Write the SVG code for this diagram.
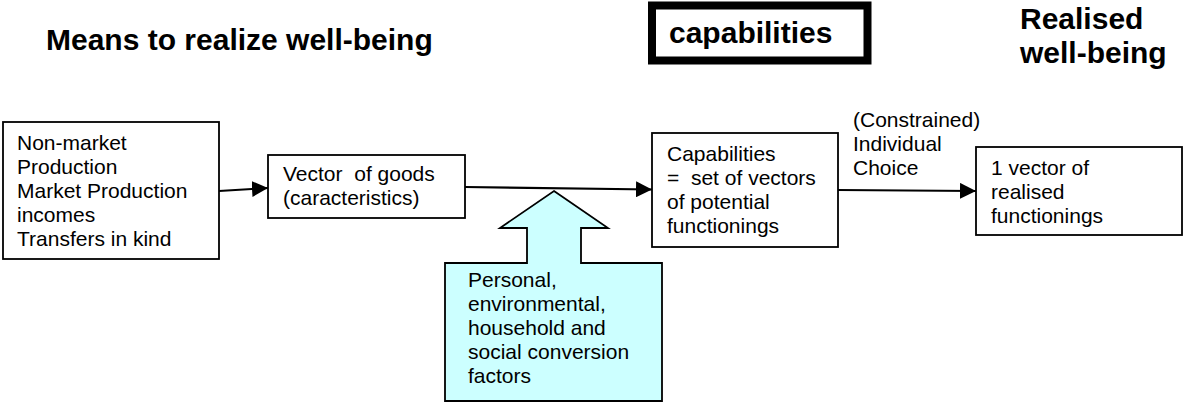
<svg xmlns="http://www.w3.org/2000/svg" width="1184" height="409" viewBox="0 0 1184 409">
<style>
.t{font-family:"Liberation Sans",Arial,sans-serif;font-size:21px;fill:#000}
.h{font-family:"Liberation Sans",Arial,sans-serif;font-size:30px;font-weight:bold;fill:#000}
.box{fill:#fff;stroke:#000;stroke-width:1.8}
.con{stroke:#000;stroke-width:2.2;fill:none}
</style>
<defs>
<marker id="ah" markerUnits="userSpaceOnUse" markerWidth="16" markerHeight="16" refX="15" refY="7.5" orient="auto" viewBox="0 0 15 15">
<path d="M0,0 L15,7.5 L0,15 z" fill="#000"/>
</marker>
</defs>
<rect width="1184" height="409" fill="#fff"/>
<g id="title-means"><text class="h" x="46" y="50">Means to realize well-being</text></g>
<g id="title-capabilities">
<rect x="652" y="5.5" width="215.5" height="55" fill="#fff" stroke="#000" stroke-width="8"/>
<text class="h" x="669" y="43">capabilities</text>
</g>
<g id="title-realised"><text class="h" x="1020" y="29">Realised</text><text class="h" x="1020" y="63">well-being</text></g>
<g id="connectors">
<line class="con" x1="219" y1="191" x2="268" y2="188" marker-end="url(#ah)"/>
<line class="con" x1="465" y1="187" x2="652" y2="189.5" marker-end="url(#ah)"/>
<line class="con" x1="838" y1="190" x2="976" y2="191" marker-end="url(#ah)"/>
</g>
<g id="node-means">
<rect class="box" x="3" y="122" width="216" height="137"/>
<text class="t" x="17" y="150">Non-market</text>
<text class="t" x="17" y="174">Production</text>
<text class="t" x="17" y="198">Market Production</text>
<text class="t" x="17" y="222">incomes</text>
<text class="t" x="17" y="246">Transfers in kind</text>
</g>
<g id="node-vector">
<rect class="box" x="268" y="155" width="197" height="63"/>
<text class="t" x="283" y="181" xml:space="preserve">Vector  of goods</text>
<text class="t" x="283" y="205">(caracteristics)</text>
</g>
<g id="node-capabilities">
<rect class="box" x="652" y="133" width="186" height="114"/>
<text class="t" x="667" y="161">Capabilities</text>
<text class="t" x="667" y="185" xml:space="preserve">=  set of vectors</text>
<text class="t" x="667" y="209">of potential</text>
<text class="t" x="667" y="233">functionings</text>
</g>
<g id="label-choice">
<text class="t" x="853" y="127">(Constrained)</text>
<text class="t" x="853" y="151">Individual</text>
<text class="t" x="853" y="175">Choice</text>
</g>
<g id="node-realised">
<rect class="box" x="976" y="147" width="206" height="88"/>
<text class="t" x="991" y="175">1 vector of</text>
<text class="t" x="991" y="199">realised</text>
<text class="t" x="991" y="223">functionings</text>
</g>
<g id="node-factors">
<polygon points="554,191 608,228 581,228 581,263 662,263 662,401 445,401 445,263 527,263 527,228 500,228" fill="#ccffff" stroke="#000" stroke-width="1.8"/>
<text class="t" x="468" y="287">Personal,</text>
<text class="t" x="468" y="311">environmental,</text>
<text class="t" x="468" y="335">household and</text>
<text class="t" x="468" y="359">social conversion</text>
<text class="t" x="468" y="383">factors</text>
</g>
</svg>
